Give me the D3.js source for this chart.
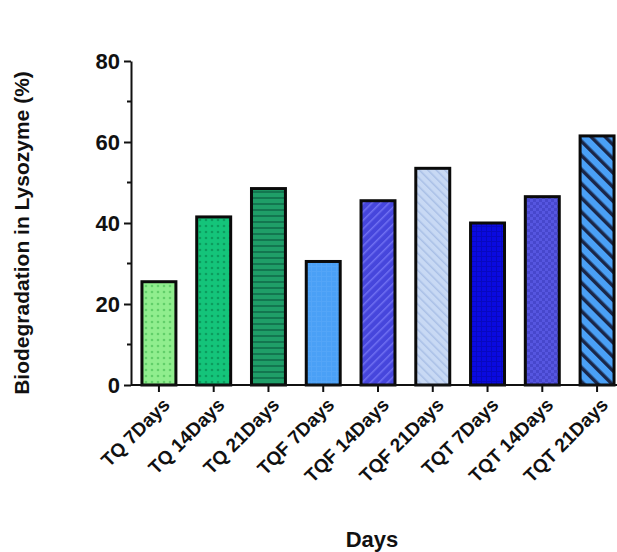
<!DOCTYPE html>
<html>
<head>
<meta charset="utf-8">
<script src="https://cdn.jsdelivr.net/npm/d3@7"></script>
<style>
  body { margin: 0; background: #fff; }
  svg { display: block; font-family: "Liberation Sans", Arial, sans-serif; }
  .axis path, .axis line { stroke: #111; stroke-width: 2px; }
  .axis text { font-weight: bold; fill: #111; }
  .title { font-weight: bold; fill: #111; }
</style>
</head>
<body>
<svg id="chart"></svg>
<script>
// data
const categories = ['TQ 7Days', 'TQ 14Days', 'TQ 21Days', 'TQF 7Days', 'TQF 14Days',
                    'TQF 21Days', 'TQT 7Days', 'TQT 14Days', 'TQT 21Days'];
const values = [25.5, 41.5, 48.5, 30.5, 45.5, 53.5, 40, 46.5, 61.5];
const yTicks = [0, 20, 40, 60, 80];
const yMinorTicks = [10, 30, 50, 70];

// fill + pattern per bar (kept apart from the data)
const fills = ['#90ee8e', '#14c47a', '#1f9e68', '#4aa0f6', '#4646dc',
               '#c8d9f4', '#0a0ae0', '#5656e0', '#4aa0f6'];
const patternInk = ['#62cf6a', '#0c9c5e', '#137650', '#5aa8f8', '#7070f2',
                    '#a9bfe6', '#0606a8', '#3838b8', '#1a2648'];
const patternKind = ['dots', 'dots', 'hlines', 'grid', 'diagUp',
                     'diagDown', 'grid', 'checker', 'bigDiag'];

const W = 617, H = 552;
const margin = {top: 61, right: -8, bottom: 167, left: 131};
const width = W - margin.left - margin.right;
const height = H - margin.top - margin.bottom;

const svg = d3.select('#chart').attr('width', W).attr('height', H);
const defs = svg.append('defs');

patternKind.forEach((kind, i) => {
  const p = defs.append('pattern')
      .attr('id', 'pat' + i)
      .attr('patternUnits', 'userSpaceOnUse');
  if (kind === 'dots') {
    p.attr('width', 6).attr('height', 6);
    p.append('rect').attr('width', 6).attr('height', 6).attr('fill', fills[i]);
    p.append('circle').attr('cx', 3).attr('cy', 3).attr('r', 1.3).attr('fill', patternInk[i]);
  } else if (kind === 'hlines') {
    p.attr('width', 6).attr('height', 6);
    p.append('rect').attr('width', 6).attr('height', 6).attr('fill', fills[i]);
    p.append('rect').attr('y', 4).attr('width', 6).attr('height', 2).attr('fill', patternInk[i]);
  } else if (kind === 'grid') {
    p.attr('width', 5).attr('height', 5);
    p.append('rect').attr('width', 5).attr('height', 5).attr('fill', fills[i]);
    p.append('path').attr('d', 'M0,0.5H5M0.5,0V5')
        .attr('stroke', patternInk[i]).attr('stroke-width', 1).attr('opacity', 0.6);
  } else if (kind === 'checker') {
    p.attr('width', 6).attr('height', 6);
    p.append('rect').attr('width', 6).attr('height', 6).attr('fill', fills[i]);
    p.append('rect').attr('width', 3).attr('height', 3).attr('fill', patternInk[i]).attr('opacity', 0.5);
    p.append('rect').attr('x', 3).attr('y', 3).attr('width', 3).attr('height', 3)
        .attr('fill', patternInk[i]).attr('opacity', 0.5);
  } else {
    const s = kind === 'bigDiag' ? 10 : 6;
    const sw = kind === 'bigDiag' ? 3.5 : 1.5;
    p.attr('width', s).attr('height', s)
        .attr('patternTransform', kind === 'diagUp' ? 'rotate(45)' : 'rotate(-45)');
    p.append('rect').attr('width', s).attr('height', s).attr('fill', fills[i]);
    p.append('rect').attr('x', 0).attr('width', sw).attr('height', s).attr('fill', patternInk[i]);
  }
});

const g = svg.append('g').attr('transform', `translate(${margin.left},${margin.top})`);

const x = d3.scaleBand()
    .domain(categories)
    .range([0, width])
    .paddingInner(0.38)
    .paddingOuter(0.2);

const y = d3.scaleLinear()
    .domain([0, 80])
    .range([height, 0]);

// bars
g.selectAll('.bar')
  .data(values)
  .enter().append('rect')
    .attr('class', 'bar')
    .attr('x', (d, i) => x(categories[i]))
    .attr('y', d => y(d))
    .attr('width', x.bandwidth())
    .attr('height', d => y(0) - y(d))
    .attr('fill', (d, i) => 'url(#pat' + i + ')')
    .attr('stroke', '#0a0a0a')
    .attr('stroke-width', 3);

// y axis
const yAxis = g.append('g')
    .attr('class', 'axis')
    .call(d3.axisLeft(y).tickValues(yTicks).tickSize(7).tickPadding(4).tickSizeOuter(0));
yAxis.selectAll('text').attr('font-size', 22).attr('dy', '0.36em');
yAxis.selectAll('.minor')
  .data(yMinorTicks)
  .enter().append('line')
    .attr('class', 'minor')
    .attr('x1', 0).attr('x2', -4)
    .attr('y1', d => y(d)).attr('y2', d => y(d));

// x axis
const xAxis = g.append('g')
    .attr('class', 'axis')
    .attr('transform', `translate(0,${height})`)
    .call(d3.axisBottom(x).tickSize(7).tickSizeOuter(0));
xAxis.select('.domain').attr('d', `M0,0H${width}`);
xAxis.selectAll('text')
    .attr('font-size', 19)
    .attr('text-anchor', 'end')
    .attr('transform', 'translate(-3,6) rotate(-45)')
    .attr('dy', '0.6em');

// titles
svg.append('text')
    .attr('class', 'title')
    .attr('font-size', 21)
    .attr('text-anchor', 'middle')
    .attr('transform', `translate(29,${margin.top + height / 2 + 10}) rotate(-90)`)
    .text('Biodegradation in Lysozyme (%)');

svg.append('text')
    .attr('class', 'title')
    .attr('font-size', 22)
    .attr('text-anchor', 'middle')
    .attr('x', 372)
    .attr('y', 547)
    .text('Days');
</script>
</body>
</html>
